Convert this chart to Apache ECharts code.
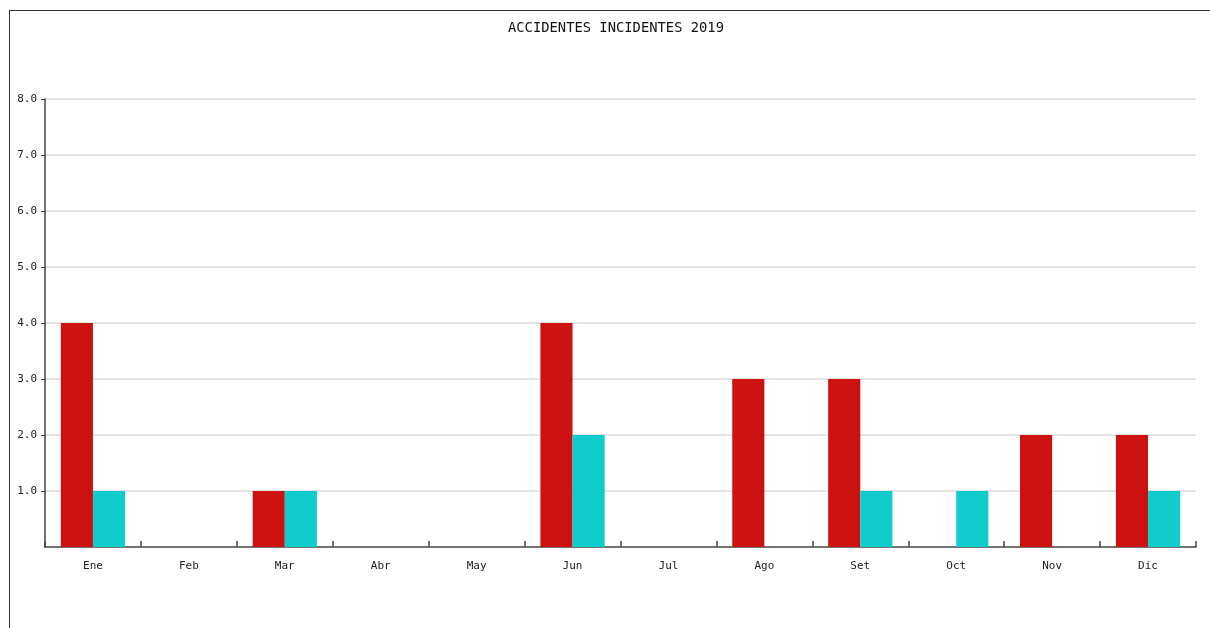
<!DOCTYPE html>
<html>
<head>
<meta charset="utf-8">
<script src="https://cdn.jsdelivr.net/npm/echarts@6/dist/echarts.min.js"></script>
<style>
  html, body { margin: 0; padding: 0; background: #fff; }
  #frame {
    position: absolute; left: 9px; top: 10px; width: 1201px; height: 618px;
    border-left: 1px solid #333; border-top: 1px solid #333;
  }
  #chart { position: absolute; left: 0; top: 0; width: 1210px; height: 628px; }
</style>
</head>
<body>
<div id="frame"></div>
<div id="chart"></div>
<script>
  // meses y valores
  const months = ['Ene', 'Feb', 'Mar', 'Abr', 'May', 'Jun', 'Jul', 'Ago', 'Set', 'Oct', 'Nov', 'Dic']
  const accidentes = [4, 0, 1, 0, 0, 4, 0, 3, 3, 0, 2, 2]
  const incidentes = [1, 0, 1, 0, 0, 2, 0, 0, 1, 1, 0, 1]
  const yTicks = [1, 2, 3, 4, 5, 6, 7, 8]

  const mono = 'DejaVu Sans Mono'
  let myChart = echarts.init(document.getElementById('chart'))
  myChart.setOption({
    animation: false,
    title: {
      text: 'ACCIDENTES INCIDENTES 2019',
      left: 503,
      top: 16,
      textStyle: { fontFamily: mono, fontSize: 13.8, fontWeight: 'normal', color: '#111' }
    },
    grid: { left: 45, right: 14, top: 99, bottom: 81 },
    xAxis: {
      type: 'category',
      data: months,
      axisLine: { lineStyle: { color: '#444', width: 1.5 } },
      axisTick: { show: true, inside: true, interval: 0, length: 6, lineStyle: { color: '#444', width: 1.5 } },
      axisLabel: { fontFamily: mono, fontSize: 11, color: '#222', margin: 14 }
    },
    yAxis: {
      type: 'value',
      min: 0,
      max: 8,
      interval: 1,
      axisLine: { show: true, lineStyle: { color: '#444', width: 1.5 } },
      axisTick: { show: true, length: 4, customValues: yTicks, lineStyle: { color: '#444' } },
      axisLabel: {
        fontFamily: mono, fontSize: 11, color: '#222', margin: 8,
        customValues: yTicks,
        formatter: function (v) { return v.toFixed(1) }
      },
      splitLine: { lineStyle: { color: '#e4e4e4', width: 2 } }
    },
    series: [
      {
        name: 'Accidentes',
        type: 'bar',
        data: accidentes,
        barGap: 0,
        barCategoryGap: '33%',
        itemStyle: { color: '#cc1111' }
      },
      {
        name: 'Incidentes',
        type: 'bar',
        data: incidentes,
        itemStyle: { color: '#11cccc' }
      }
    ]
  })
</script>
</body>
</html>
